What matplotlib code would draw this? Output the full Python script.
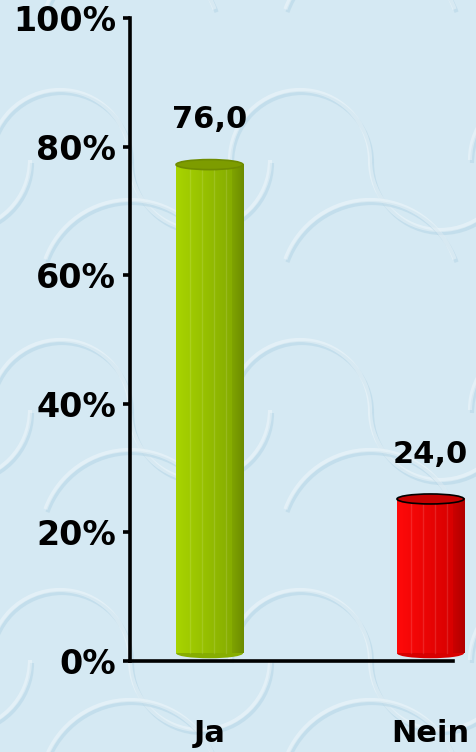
import numpy as np
import matplotlib
matplotlib.use("Agg")
import matplotlib.pyplot as plt
from matplotlib.patches import Ellipse, Arc

# ---- data ----
categories = ["Ja", "Nein"]
values = [76.0, 24.0]
value_labels = ["76,0", "24,0"]
yticks = [0, 20, 40, 60, 80, 100]
ytick_labels = ["0%", "20%", "40%", "60%", "80%", "100%"]

# ---- styles ----
front_cols = [("#a8d400", "#86ad00"), ("#ff0a0a", "#d80000")]
side_cols = [("#7fa300", "#6c8c00"), ("#cc0000", "#b00000")]
cap_cols = ["#7d9c00", "#c40000"]
cap_edges = ["#6f8c00", "#000000"]
bg = "#d5e9f3"

W, H = 477, 752
fig = plt.figure(figsize=(W / 100, H / 100), dpi=100)
fig.patch.set_facecolor(bg)

# background wave pattern
bgax = fig.add_axes([0, 0, 1, 1], zorder=-10)
bgax.set_xlim(0, W)
bgax.set_ylim(H, 0)
bgax.axis("off")
tile_w, tile_h = 240, 250
for ty in range(-1, 4):
    for tx in range(-1, 3):
        ox = tx * tile_w
        oy = ty * tile_h
        for (cx, cy, r, t1, t2) in [(ox + 60, oy + 160, 70, 180, 360),
                                    (ox + 200, oy + 160, 70, 0, 180),
                                    (ox + 130, oy + 40, 90, 200, 340)]:
            bgax.add_patch(Arc((cx + 2, cy + 3), 2 * r, 2 * r, theta1=t1, theta2=t2,
                               color="#9cc6dc", lw=3, alpha=0.3))
            bgax.add_patch(Arc((cx, cy), 2 * r, 2 * r, theta1=t1, theta2=t2,
                               color="white", lw=3, alpha=0.35))

ax = fig.add_axes([130 / W, 1 - 661 / H, (453 - 130) / W, (661 - 18) / H])
ax.set_facecolor("none")
x = np.arange(len(categories))
front_w = 0.253
side_w = 0.05
base = 1.2
ax.set_xlim(-0.335, 1.127)
ax.set_ylim(0, 100)

bars = ax.bar(x, values, width=front_w, bottom=base, color="none", zorder=3, clip_on=False)
px_per_unit = 643 / 100.0
cap_h = 10 / px_per_unit
for i, rect in enumerate(bars):
    x0, y0 = rect.get_x(), rect.get_y()
    w, h = rect.get_width(), rect.get_height()
    c1, c2 = [np.array(matplotlib.colors.to_rgb(c)) for c in front_cols[i]]
    t = np.linspace(0, 1, 64)[None, :, None]
    grad = c1 * (1 - t) + c2 * t
    ax.imshow(grad, extent=[x0, x0 + w, y0, y0 + h], aspect="auto", zorder=3,
              interpolation="bilinear", clip_on=False)
    s1, s2 = [np.array(matplotlib.colors.to_rgb(c)) for c in side_cols[i]]
    sgrad = s1 * (1 - t) + s2 * t
    ax.imshow(sgrad, extent=[x0 + w, x0 + w + side_w, y0, y0 + h], aspect="auto",
              zorder=3, interpolation="bilinear", clip_on=False)
    for fx in np.linspace(x0 + w * 0.25, x0 + w * 0.9, 4):
        ax.plot([fx, fx], [y0, y0 + h], color="white", alpha=0.12, lw=1, zorder=3.5,
                clip_on=False)
    ax.add_patch(Ellipse((x0 + (w + side_w) / 2, y0), w + side_w, cap_h,
                         facecolor=front_cols[i][1], edgecolor="none", zorder=2.9,
                         clip_on=False))
    ax.add_patch(Ellipse((x0 + (w + side_w) / 2, y0 + h), w + side_w, cap_h,
                         facecolor=cap_cols[i], edgecolor=cap_edges[i], lw=1.2, zorder=4,
                         clip_on=False))
    ax.text(x0 + (w + side_w) / 2, y0 + h + 4.7, value_labels[i], ha="center",
            va="bottom", fontsize=22, fontweight="bold", color="black", zorder=5)

for s in ["top", "right"]:
    ax.spines[s].set_visible(False)
for s in ["left", "bottom"]:
    ax.spines[s].set_linewidth(2.6)
    ax.spines[s].set_color("black")
ax.set_yticks(yticks)
ax.set_yticklabels(ytick_labels, fontsize=24, fontweight="bold")
ax.tick_params(axis="y", length=5, width=2.6, pad=5)
ax.set_xticks(x + side_w / 2)
ax.set_xticklabels(categories, fontsize=22, fontweight="bold")
ax.tick_params(axis="x", length=0, pad=42)

fig.savefig("out.png", dpi=100, facecolor=bg)
